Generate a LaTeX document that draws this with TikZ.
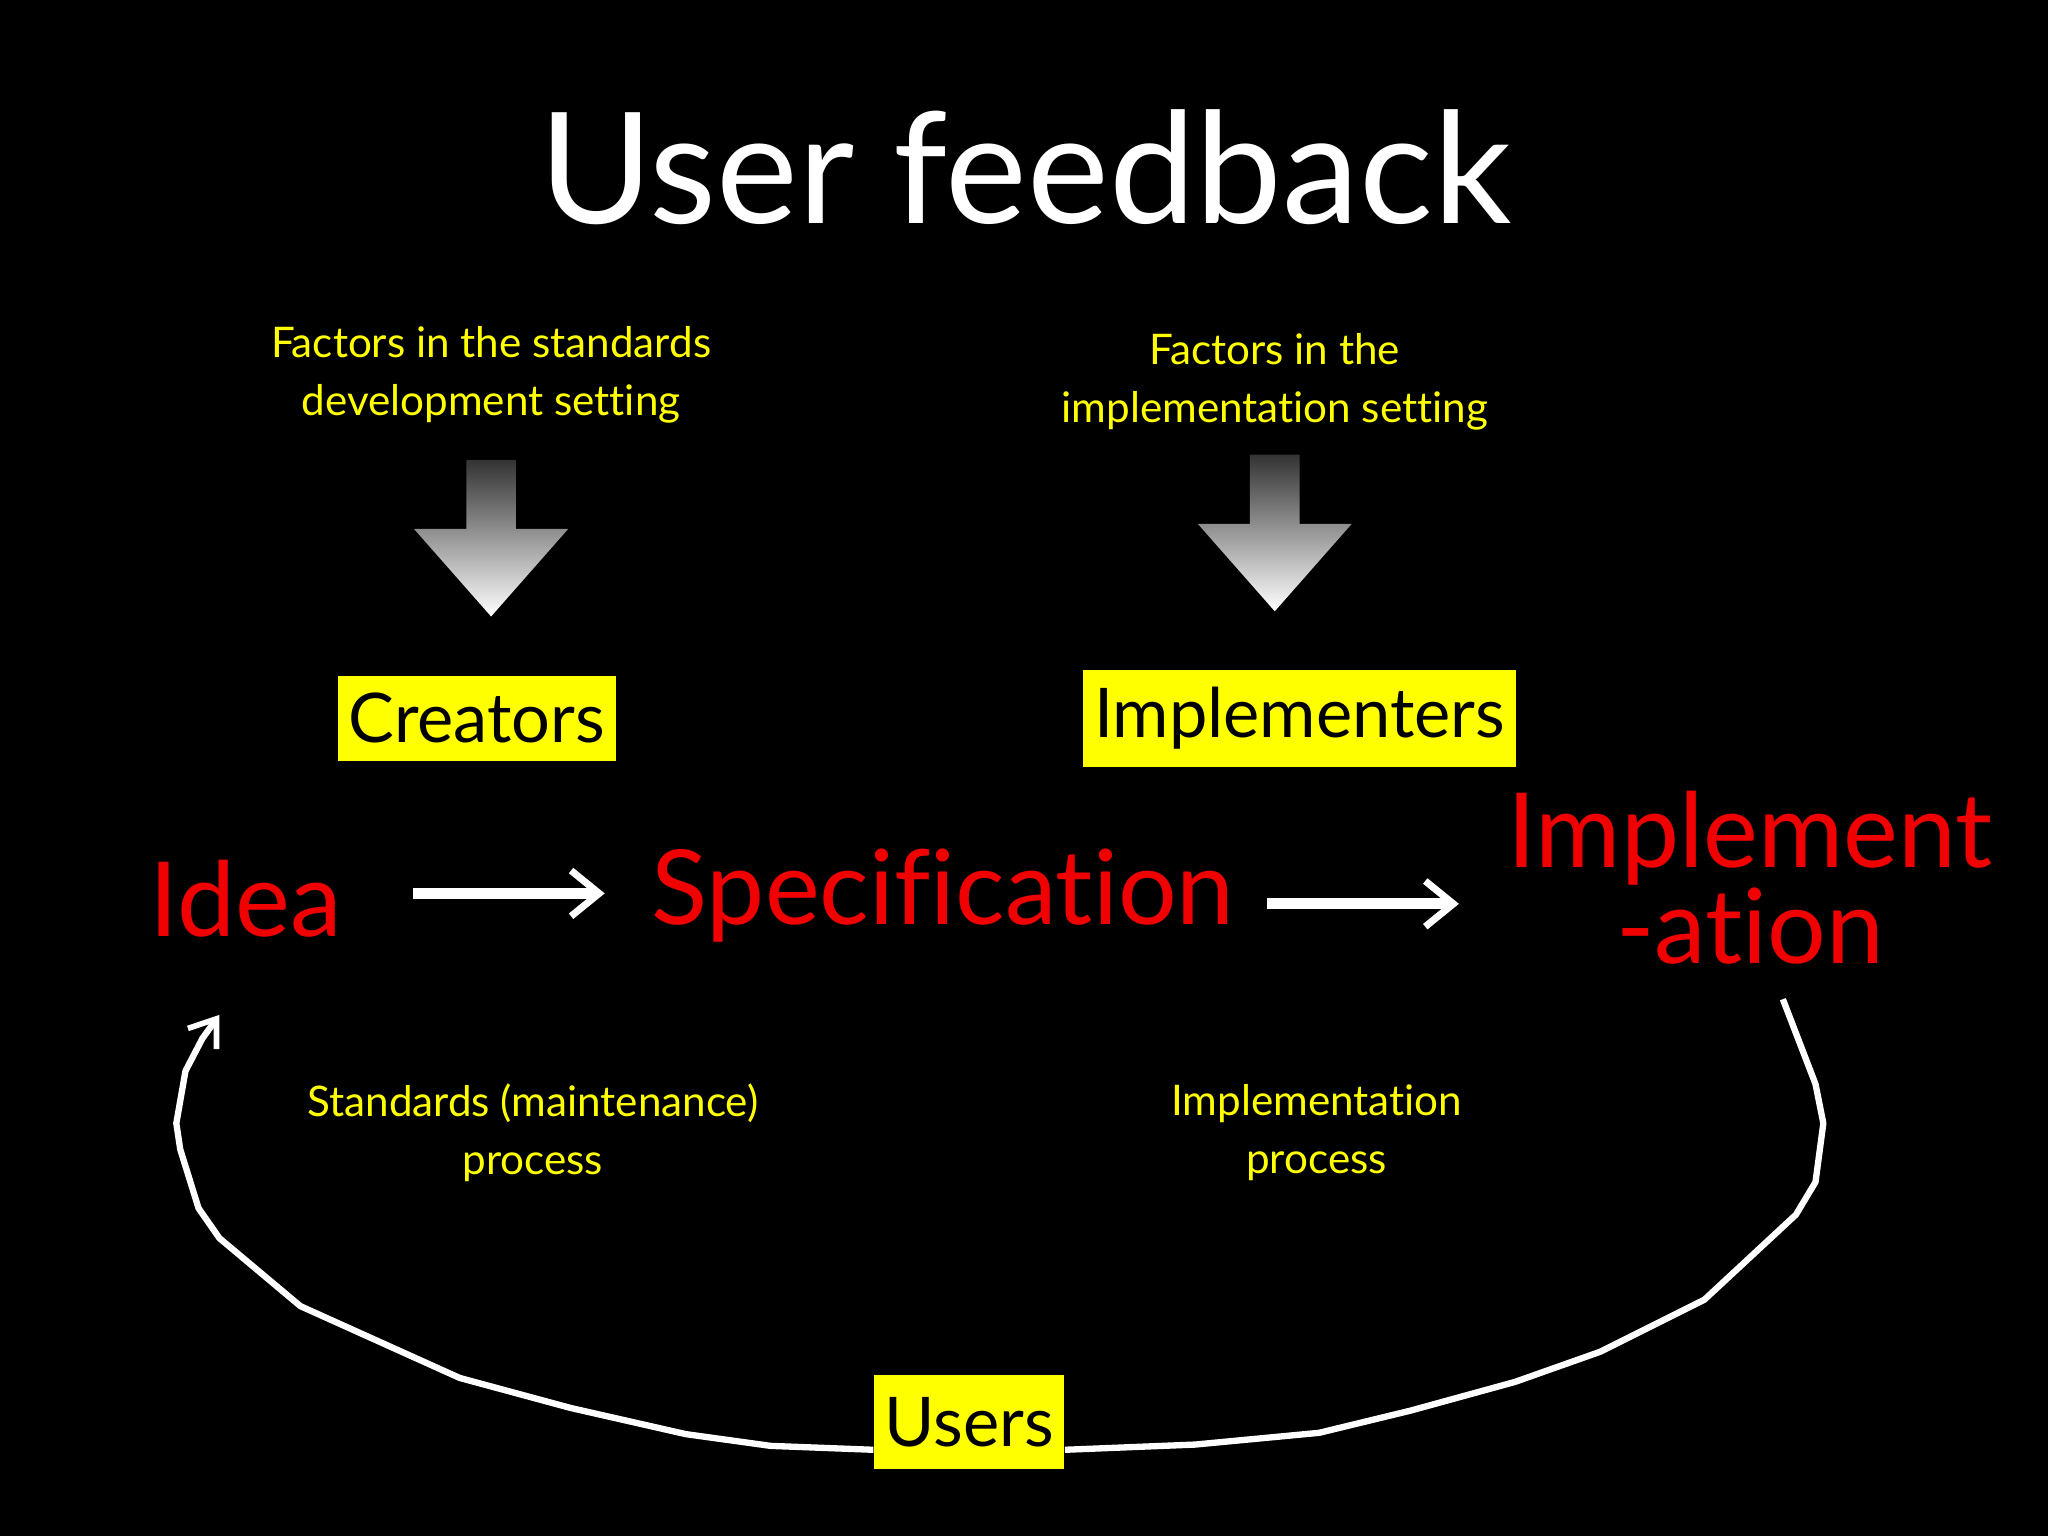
\documentclass[tikz,border=0pt]{standalone}
\usepackage{fontspec}
\setmainfont{Lato}[Ligatures=NoCommon]
\usetikzlibrary{arrows.meta}
\definecolor{yel}{RGB}{255,255,0}
\definecolor{rd}{RGB}{240,0,0}
\begin{document}
\begin{tikzpicture}[x=0.01306cm,y=-0.01306cm,
  ylab/.style={text=yel,font=\fontsize{12}{16.5}\selectfont,align=center},
  ybox/.style={fill=yel,text=black,font=\fontsize{19.5}{24}\selectfont,inner xsep=3pt,inner ysep=5pt},
  red/.style={text=rd,font=\fontsize{29.5}{26}\selectfont,align=center},
  warr/.style={white,line width=3.2pt,-{Straight Barb[length=8pt,width=13pt,line width=2pt]}},
  loop/.style={white,line width=1.8pt,line join=round}]
\fill[black] (0,0) rectangle (1568,1176);
\node (title) at (785,128) [white,font=\fontsize{44}{50}\selectfont] {User feedback};
\node (f1) at (376,287) [ylab] {Factors in the standards\\development setting};
\node (f2) at (976,292) [ylab] {Factors in the\\implementation setting};
\foreach \n/\x/\y in {a1/376/352,a2/976/348}{
  \shade[top color=gray!40!black,bottom color=white] (\x-19,\y) -- (\x+19,\y) -- (\x+19,\y+53) -- (\x+59,\y+53) -- (\x,\y+120) -- (\x-59,\y+53) -- (\x-19,\y+53) -- cycle;
  \coordinate (\n) at (\x,\y);
}
\node (cr) at (365,550) [ybox] {Creators};
\node (im) at (995,550) [ybox] {Implementers};
\node (idea) at (188,688) [red] {Idea};
\node (spec) at (722,686) [red] {Specification};
\node (impl) at (1340,672) [red] {Implement\\-ation};
\coordinate (s1) at (316,684); \coordinate (e1) at (463,684);
\coordinate (s2) at (970,692); \coordinate (e2) at (1117,692);
\draw[warr] (s1) -- (e1);
\draw[warr] (s2) -- (e2);
\node (sp) at (408,867) [ylab] {Standards (maintenance)\\process};
\node (ip) at (1008,867) [ylab] {Implementation\\process};
\node (users) at (742,1089) [ybox,minimum width=1.83cm,minimum height=0.94cm] {Users};
\coordinate (c0) at (1365,765);
\draw[loop] (c0) -- (1390,830) -- (1396,860) -- (1390,905) -- (1375,930) -- (1305,995) -- (1225,1035) -- (1160,1058) -- (1080,1080) -- (1010,1097) -- (915,1106) -- (users.east|-0,1110);
\draw[loop,-{Straight Barb[length=7pt,width=10pt,line width=1.6pt]}] (users.west|-0,1110) -- (590,1107) -- (525,1098) -- (437,1078) -- (352,1055) -- (230,1000) -- (168,948) -- (152,925) -- (138,880) -- (135,860) -- (142,820) -- (155,795) -- (168,777);
\end{tikzpicture}
\end{document}
